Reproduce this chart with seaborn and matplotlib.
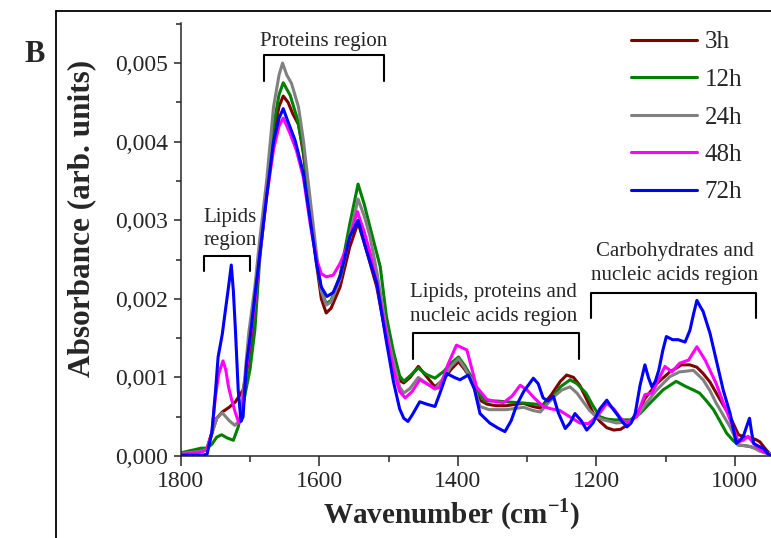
import numpy as np
import pandas as pd
import matplotlib
matplotlib.use("Agg")
import matplotlib.pyplot as plt
import seaborn as sns
from matplotlib.ticker import MultipleLocator, FuncFormatter
from matplotlib.lines import Line2D

# ---------------- data (absorbance in units of 1e-3) ----------------
series_labels = ["3h", "12h", "24h", "48h", "72h"]
series_colors = ["#800000", "#008000", "#808080", "#ff00ff", "#0000ff"]

wn_3h = [1800, 1790, 1780, 1770, 1762, 1755, 1748, 1740, 1730, 1721, 1710, 1700, 1693, 1686, 1676,
         1666, 1658, 1652, 1645, 1638, 1630, 1623, 1613, 1604, 1597, 1590, 1583, 1570, 1556, 1544,
         1532, 1517, 1503, 1493, 1484, 1478, 1469, 1457, 1446, 1433, 1420, 1410, 1399, 1390, 1380,
         1368, 1358, 1345, 1330, 1315, 1305, 1292, 1281, 1265, 1252, 1243, 1233, 1224, 1214, 1205,
         1195, 1185, 1175, 1165, 1151, 1140, 1130, 1113, 1094, 1077, 1065, 1055, 1046, 1036, 1027,
         1017, 1007, 995, 985, 978, 970, 964, 957, 950]
abs_3h = [0.02, 0.03, 0.05, 0.06, 0.10, 0.30, 0.48, 0.56, 0.62, 0.69, 0.84, 1.30, 1.85, 2.60, 3.40,
          4.10, 4.45, 4.58, 4.50, 4.35, 4.22, 3.85, 3.10, 2.45, 2.00, 1.82, 1.88, 2.15, 2.66, 2.97,
          2.62, 2.15, 1.50, 1.12, 0.96, 0.93, 1.00, 1.14, 1.02, 0.88, 0.98, 1.10, 1.20, 1.10, 0.97,
          0.71, 0.66, 0.64, 0.64, 0.66, 0.67, 0.63, 0.61, 0.78, 0.95, 1.03, 1.00, 0.90, 0.72, 0.55,
          0.44, 0.36, 0.33, 0.34, 0.42, 0.55, 0.73, 0.92, 1.07, 1.16, 1.16, 1.13, 1.05, 0.94, 0.80,
          0.65, 0.50, 0.27, 0.24, 0.23, 0.21, 0.18, 0.10, 0.03]

wn_12h = [1800, 1790, 1780, 1770, 1762, 1755, 1748, 1741, 1733, 1724, 1717, 1710, 1705, 1700, 1693,
          1686, 1676, 1666, 1658, 1652, 1642, 1632, 1623, 1613, 1604, 1597, 1590, 1583, 1570, 1556,
          1544, 1535, 1527, 1512, 1503, 1493, 1484, 1478, 1469, 1457, 1446, 1433, 1420, 1410, 1399,
          1390, 1380, 1370, 1361, 1345, 1330, 1315, 1300, 1288, 1277, 1265, 1252, 1238, 1228, 1215,
          1205, 1195, 1185, 1175, 1160, 1151, 1137, 1123, 1104, 1085, 1070, 1060, 1051, 1041, 1031,
          1022, 1012, 1003, 995, 985, 978, 970, 964, 957, 950]
abs_12h = [0.04, 0.06, 0.08, 0.10, 0.10, 0.15, 0.24, 0.27, 0.23, 0.20, 0.37, 0.65, 0.88, 1.10, 1.60,
           2.50, 3.35, 4.20, 4.60, 4.75, 4.59, 4.30, 3.90, 3.15, 2.50, 2.10, 1.94, 1.98, 2.30, 2.95,
           3.46, 3.20, 2.92, 2.41, 1.77, 1.33, 1.02, 0.95, 1.02, 1.12, 1.04, 0.99, 1.08, 1.18, 1.26,
           1.15, 1.00, 0.80, 0.70, 0.70, 0.69, 0.68, 0.67, 0.66, 0.65, 0.72, 0.88, 0.97, 0.92, 0.80,
           0.64, 0.50, 0.47, 0.46, 0.46, 0.46, 0.54, 0.67, 0.84, 0.95, 0.88, 0.84, 0.80, 0.70, 0.59,
           0.45, 0.29, 0.20, 0.14, 0.13, 0.12, 0.10, 0.08, 0.05, 0.03]

wn_24h = [1800, 1790, 1780, 1770, 1762, 1755, 1748, 1740, 1730, 1722, 1715, 1708, 1702, 1693, 1686,
          1676, 1666, 1658, 1653, 1647, 1640, 1630, 1623, 1613, 1604, 1597, 1590, 1583, 1570, 1556,
          1544, 1535, 1527, 1517, 1503, 1493, 1484, 1478, 1469, 1457, 1446, 1433, 1420, 1410, 1399,
          1390, 1380, 1368, 1355, 1330, 1305, 1292, 1281, 1262, 1250, 1238, 1228, 1219, 1210, 1200,
          1190, 1180, 1171, 1160, 1151, 1140, 1130, 1113, 1094, 1080, 1060, 1046, 1036, 1027, 1017,
          1007, 995, 985, 978, 970, 964, 957, 950]
abs_24h = [0.03, 0.04, 0.05, 0.06, 0.09, 0.28, 0.48, 0.55, 0.45, 0.39, 0.45, 0.95, 1.55, 2.15, 2.75,
           3.50, 4.44, 4.85, 5.00, 4.85, 4.74, 4.44, 4.02, 3.26, 2.58, 2.10, 1.92, 1.96, 2.25, 2.80,
           3.27, 3.05, 2.80, 2.35, 1.60, 1.20, 0.88, 0.80, 0.86, 1.00, 0.93, 0.85, 1.00, 1.14, 1.24,
           1.12, 0.97, 0.63, 0.59, 0.59, 0.62, 0.58, 0.56, 0.75, 0.84, 0.88, 0.80, 0.69, 0.58, 0.50,
           0.46, 0.44, 0.42, 0.43, 0.44, 0.52, 0.65, 0.84, 1.01, 1.07, 1.09, 0.97, 0.83, 0.67, 0.52,
           0.37, 0.14, 0.13, 0.12, 0.09, 0.06, 0.04, 0.03]

wn_48h = [1800, 1790, 1780, 1770, 1762, 1755, 1750, 1745, 1739, 1735, 1731, 1726, 1721, 1716, 1711,
          1707, 1698, 1693, 1686, 1676, 1666, 1658, 1652, 1642, 1633, 1623, 1613, 1604, 1597, 1590,
          1580, 1570, 1560, 1545, 1535, 1527, 1517, 1503, 1493, 1484, 1476, 1466, 1455, 1445, 1433,
          1426, 1415, 1402, 1387, 1378, 1373, 1358, 1345, 1334, 1322, 1310, 1300, 1291, 1277, 1265,
          1253, 1235, 1224, 1212, 1205, 1195, 1185, 1175, 1165, 1156, 1142, 1130, 1120, 1110, 1101,
          1091, 1080, 1067, 1055, 1043, 1027, 1017, 1007, 995, 988, 981, 975, 969, 960, 950]
abs_48h = [0.02, 0.03, 0.04, 0.05, 0.08, 0.30, 0.75, 1.05, 1.21, 1.10, 0.88, 0.70, 0.55, 0.42, 0.55,
           0.97, 1.60, 1.95, 2.55, 3.30, 3.90, 4.20, 4.30, 4.10, 3.89, 3.55, 2.95, 2.50, 2.32, 2.28,
           2.30, 2.45, 2.66, 3.11, 2.85, 2.60, 2.20, 1.55, 1.10, 0.82, 0.74, 0.82, 0.97, 0.92, 0.86,
           0.87, 1.15, 1.41, 1.35, 1.05, 0.88, 0.72, 0.69, 0.68, 0.76, 0.90, 0.84, 0.75, 0.63, 0.60,
           0.58, 0.48, 0.42, 0.41, 0.46, 0.55, 0.67, 0.60, 0.48, 0.42, 0.50, 0.78, 0.80, 0.98, 1.14,
           1.07, 1.18, 1.22, 1.39, 1.22, 0.92, 0.68, 0.46, 0.18, 0.20, 0.25, 0.18, 0.12, 0.06, 0.02]

wn_72h = [1800, 1790, 1780, 1770, 1762, 1755, 1750, 1746, 1740, 1736, 1731, 1727, 1724, 1721, 1717,
          1713, 1710, 1705, 1700, 1693, 1686, 1676, 1666, 1658, 1652, 1645, 1635, 1623, 1613, 1604,
          1597, 1589, 1580, 1570, 1556, 1544, 1532, 1517, 1503, 1493, 1484, 1478, 1472, 1466, 1455,
          1445, 1433, 1425, 1416, 1405, 1397, 1385, 1376, 1368, 1354, 1343, 1332, 1323, 1315, 1305,
          1291, 1284, 1277, 1270, 1262, 1255, 1245, 1238, 1231, 1222, 1214, 1205, 1195, 1185, 1178,
          1171, 1163, 1156, 1150, 1144, 1137, 1130, 1125, 1120, 1115, 1110, 1104, 1099, 1090, 1082,
          1072, 1065, 1060, 1055, 1050, 1046, 1036, 1027, 1017, 1007, 998, 993, 988, 983, 979, 976,
          973, 965, 959, 955, 950]
abs_72h = [0.01, 0.01, 0.01, 0.01, 0.02, 0.30, 0.80, 1.26, 1.55, 1.82, 2.15, 2.43, 2.10, 1.60, 0.84,
           0.44, 0.50, 1.18, 1.50, 2.03, 2.55, 3.30, 4.00, 4.30, 4.42, 4.25, 4.02, 3.60, 3.00, 2.45,
           2.15, 2.03, 2.08, 2.28, 2.79, 3.00, 2.62, 2.20, 1.45, 0.95, 0.60, 0.48, 0.44, 0.52, 0.69,
           0.66, 0.63, 0.82, 1.05, 1.00, 0.97, 1.03, 0.85, 0.54, 0.42, 0.36, 0.31, 0.45, 0.65, 0.82,
           0.99, 0.92, 0.74, 0.70, 0.76, 0.55, 0.35, 0.42, 0.54, 0.45, 0.33, 0.42, 0.60, 0.71, 0.62,
           0.54, 0.44, 0.37, 0.42, 0.54, 0.90, 1.16, 1.00, 0.88, 0.95, 1.09, 1.35, 1.52, 1.48, 1.48,
           1.45, 1.60, 1.80, 1.98, 1.90, 1.84, 1.56, 1.22, 0.84, 0.54, 0.16, 0.20, 0.25, 0.38, 0.48, 0.30,
           0.16, 0.12, 0.10, 0.05, 0.01]

# region annotations: (text lines, bracket start, bracket end)
regions = [
    (["Lipids", "region"], 1766, 1700),
    (["Proteins region"], 1680, 1506),
    (["Lipids, proteins and", "nucleic acids region"], 1464, 1225),
    (["Carbohydrates and", "nucleic acids region"], 1208, 969),
]
region_bracket_y = [(2.54e-3, 2.35e-3), (5.10e-3, 4.77e-3), (1.57e-3, 1.24e-3), (2.08e-3, 1.75e-3)]
region_text_y = [(3.04e-3, 2.74e-3), (5.27e-3,), (2.08e-3, 1.78e-3), (2.60e-3, 2.30e-3)]
region_text_x = [1729, 1594, 1349, 1087]

# ---------------- build frame ----------------
wns = [wn_3h, wn_12h, wn_24h, wn_48h, wn_72h]
absv = [abs_3h, abs_12h, abs_24h, abs_48h, abs_72h]
frames = []
for lab, w, a in zip(series_labels, wns, absv):
    frames.append(pd.DataFrame({"Wavenumber": w,
                                "Absorbance": np.asarray(a) * 1e-3,
                                "Time": lab}))
df = pd.concat(frames, ignore_index=True)

sns.set_style("ticks")
plt.rcParams["font.family"] = ["Liberation Serif", "DejaVu Serif"]
plt.rcParams["mathtext.fontset"] = "custom"
plt.rcParams["mathtext.rm"] = "Liberation Serif"
plt.rcParams["mathtext.bf"] = "Liberation Serif:bold"

W, H = 771, 538
fig = plt.figure(figsize=(W / 100, H / 100), dpi=100)
ax_left, ax_bottom, ax_top = 180.7 / W, (H - 456) / H, (H - 23) / H
ax = fig.add_axes([ax_left, ax_bottom, 1 - ax_left, ax_top - ax_bottom])

sns.lineplot(data=df, x="Wavenumber", y="Absorbance", hue="Time",
             hue_order=series_labels,
             palette=dict(zip(series_labels, series_colors)),
             estimator=None, sort=True, linewidth=2.2, ax=ax)

ax.set_xlim(1800, 948)
ax.set_ylim(0, 0.00551)
sns.despine(ax=ax)
for s in ["left", "bottom"]:
    ax.spines[s].set_linewidth(1.1)

ax.xaxis.set_major_locator(MultipleLocator(200))
ax.xaxis.set_minor_locator(MultipleLocator(100))
ax.yaxis.set_major_locator(MultipleLocator(0.001))
ax.yaxis.set_minor_locator(MultipleLocator(0.0005))
ax.yaxis.set_major_formatter(FuncFormatter(lambda v, p: f"{v:.3f}".replace(".", ",")))
ax.xaxis.set_major_formatter(FuncFormatter(lambda v, p: f"{v:.0f}"))
ax.tick_params(axis="x", which="major", length=7, width=1.1, labelsize=17, pad=4)
ax.tick_params(axis="x", which="minor", length=4.5, width=1.1)
ax.tick_params(axis="y", which="major", length=5, width=1.1, labelsize=17, pad=4)
ax.tick_params(axis="y", which="minor", length=3.5, width=1.1)

ax.set_xlabel(r"Wavenumber (cm$^{\mathbf{-1}}$)", fontsize=21, fontweight="bold")
ax.set_ylabel("Absorbance (arb. units)", fontsize=22.5, fontweight="bold")
ax.xaxis.set_label_coords((452 - 180.7) / 590.3, (456 - 514) / 433)
ax.xaxis.label.set_verticalalignment("center")
ax.yaxis.set_label_coords((82 - 180.7) / 590.3, (456 - 218) / 433)
ax.yaxis.label.set_verticalalignment("center")

# region brackets and labels
for (lines, x0, x1), (yt, yb), tys, tx in zip(regions, region_bracket_y, region_text_y, region_text_x):
    ax.plot([x0, x0, x1, x1], [yb, yt, yt, yb], color="black", lw=1.5, clip_on=False)
    for line, ty in zip(lines, tys):
        ax.text(tx, ty, line, ha="center", va="center", fontsize=15)

# legend
handles, labels = ax.get_legend_handles_labels()
ax.legend(handles, labels, loc="upper left", frameon=False,
          bbox_to_anchor=(631 / W, 1 - 31 / H), bbox_transform=fig.transFigure,
          borderpad=0, borderaxespad=0, handlelength=2.64, handletextpad=0.3,
          labelspacing=0.6, fontsize=18)

# panel frame and letter
ytop = 1 - 10.5 / H
fig.add_artist(Line2D([56 / W, 1], [ytop, ytop], transform=fig.transFigure, color="black", lw=1.3))
fig.add_artist(Line2D([56 / W, 56 / W], [0, ytop], transform=fig.transFigure, color="black", lw=1.3))
fig.text(35 / W, 1 - 55 / H, "B", fontsize=22, fontweight="bold", ha="center", va="center")

fig.savefig("out.png", dpi=100)
